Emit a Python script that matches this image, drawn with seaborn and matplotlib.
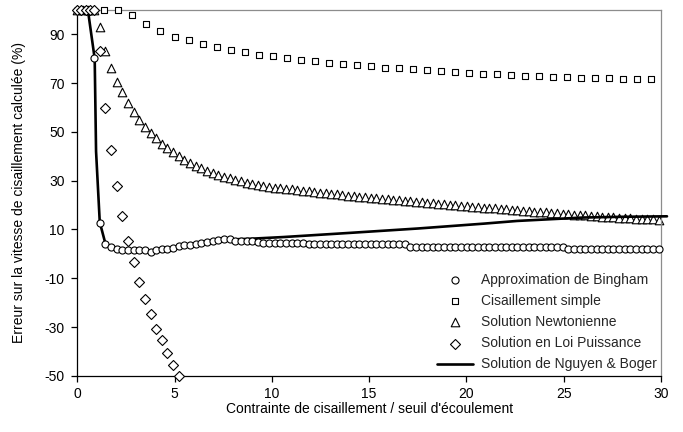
import matplotlib
matplotlib.use("Agg")
import matplotlib.pyplot as plt
import seaborn as sns

sns.set_theme(style="white")
plt.rcParams["font.family"] = ["Liberation Sans", "DejaVu Sans"]
plt.rcParams["axes.unicode_minus"] = False

# common abscissa for the Bingham and Newtonian series
grid_x = [
    0.00, 0.29, 0.58, 0.87, 1.16, 1.45, 1.74, 2.03, 2.32, 2.61,
    2.90, 3.19, 3.48, 3.77, 4.06, 4.35, 4.64, 4.93, 5.22, 5.51,
    5.80, 6.09, 6.38, 6.67, 6.96, 7.25, 7.54, 7.83, 8.12, 8.41,
    8.70, 8.99, 9.28, 9.57, 9.86, 10.15, 10.44, 10.73, 11.02, 11.31,
    11.60, 11.89, 12.18, 12.47, 12.76, 13.05, 13.34, 13.63, 13.92, 14.21,
    14.50, 14.79, 15.08, 15.37, 15.66, 15.95, 16.24, 16.53, 16.82, 17.11,
    17.40, 17.69, 17.98, 18.27, 18.56, 18.85, 19.14, 19.43, 19.72, 20.01,
    20.30, 20.59, 20.88, 21.17, 21.46, 21.75, 22.04, 22.33, 22.62, 22.91,
    23.20, 23.49, 23.78, 24.07, 24.36, 24.65, 24.94, 25.23, 25.52, 25.81,
    26.10, 26.39, 26.68, 26.97, 27.26, 27.55, 27.84, 28.13, 28.42, 28.71,
    29.00, 29.29, 29.58, 29.87,
]

bingham_err = [
    100, 100, 100, 80.5, 12.8, 4.2, 2.9, 2.2, 1.5, 1.5,
    1.5, 1.5, 1.5, 0.8, 1.5, 1.9, 2.2, 2.5, 3.3, 3.5,
    3.8, 4.2, 4.5, 4.9, 5.3, 5.6, 5.9, 6.0, 5.3, 5.3,
    5.3, 5.3, 4.9, 4.6, 4.5, 4.5, 4.4, 4.4, 4.3, 4.3,
    4.3, 4.2, 4.2, 4.2, 4.2, 4.1, 4.1, 4.1, 4.1, 4.0,
    4.0, 4.0, 4.0, 4.0, 4.0, 3.9, 3.9, 3.9, 3.9, 2.9,
    2.9, 2.9, 2.9, 2.9, 2.9, 2.9, 2.9, 2.9, 2.9, 2.9,
    2.9, 2.9, 2.9, 2.9, 2.9, 2.9, 2.9, 2.9, 2.9, 2.9,
    2.9, 2.9, 2.9, 2.9, 2.9, 2.9, 2.9, 2.2, 2.2, 2.2,
    2.2, 2.2, 2.2, 2.2, 2.2, 2.2, 2.2, 2.2, 2.2, 2.2,
    2.2, 2.2, 2.2, 2.2,
]

newton_err = [
    100, 100, 100, 100, 92.8, 83.2, 76.4, 70.3, 66.2, 61.7,
    58.3, 55.0, 52.2, 49.6, 47.4, 45.2, 43.3, 41.6, 40.0, 38.6,
    37.3, 36.1, 35.0, 34.0, 33.1, 32.3, 31.6, 30.9, 30.3, 29.7,
    29.1, 28.6, 28.1, 27.8, 27.5, 27.2, 26.9, 26.6, 26.4, 26.1,
    25.8, 25.6, 25.3, 25.1, 24.8, 24.6, 24.4, 24.1, 23.9, 23.7,
    23.4, 23.2, 23.0, 22.8, 22.5, 22.3, 22.1, 21.9, 21.7, 21.5,
    21.3, 21.1, 20.9, 20.7, 20.5, 20.3, 20.1, 19.9, 19.7, 19.5,
    19.3, 19.1, 18.9, 18.8, 18.6, 18.4, 18.2, 18.0, 17.9, 17.7,
    17.5, 17.3, 17.2, 17.0, 16.8, 16.6, 16.5, 16.3, 16.1, 16.0,
    15.8, 15.7, 15.5, 15.3, 15.2, 15.0, 14.9, 14.7, 14.6, 14.5,
    14.3, 14.2, 14.1, 14.0,
]

simple_x = [
    0.68, 1.40, 2.12, 2.84, 3.56, 4.28, 5.00, 5.72, 6.44, 7.16,
    7.88, 8.60, 9.32, 10.04, 10.76, 11.48, 12.20, 12.92, 13.64, 14.36,
    15.08, 15.80, 16.52, 17.24, 17.96, 18.68, 19.40, 20.12, 20.84, 21.56,
    22.28, 23.00, 23.72, 24.44, 25.16, 25.88, 26.60, 27.32, 28.04, 28.76,
    29.48,
]
simple_err = [
    100, 100, 100, 97.8, 94.2, 91.4, 89.1, 87.6, 86.0, 84.9,
    83.7, 82.6, 81.7, 81.0, 80.3, 79.6, 79.0, 78.4, 77.9, 77.4,
    76.9, 76.4, 76.0, 75.6, 75.2, 74.8, 74.5, 74.2, 73.9, 73.6,
    73.4, 73.1, 72.9, 72.7, 72.5, 72.3, 72.1, 72.0, 71.8, 71.7,
    71.6,
]

power_x = [
    0.00, 0.22, 0.44, 0.66, 0.88, 1.16, 1.45, 1.74, 2.03, 2.32,
    2.61, 2.90, 3.19, 3.48, 3.77, 4.06, 4.35, 4.64, 4.93, 5.22,
]
power_err = [
    100, 100, 100, 100, 100, 83.2, 59.8, 42.4, 27.7, 15.7,
    5.3, -3.4, -11.6, -18.7, -24.5, -30.7, -35.4, -40.5, -45.5, -50.0,
]

nb_x = [0.0, 0.55, 0.90, 0.97, 1.16, 1.45, 1.74, 2.32, 3.0, 3.77, 4.35, 5.22,
        6.09, 6.96, 7.83, 8.9, 10.6, 14.0, 17.5, 20.9, 22.6, 26.0, 28.0, 30.3]
nb_err = [100, 100, 80, 42, 13, 4.2, 2.8, 1.7, 1.5, 1.0, 1.8, 3.2,
          4.1, 5.2, 5.9, 6.2, 6.9, 8.6, 10.4, 12.4, 13.5, 14.9, 15.2, 15.4]

labels = [
    "Approximation de Bingham",
    "Cisaillement simple",
    "Solution Newtonienne",
    "Solution en Loi Puissance",
    "Solution de Nguyen & Boger",
]

fig, ax = plt.subplots(figsize=(6.83, 4.32), dpi=100)
fig.subplots_adjust(left=0.113, right=0.968, bottom=0.130, top=0.977)

mk = dict(color="white", edgecolor="black", linewidth=0.8, clip_on=False, ax=ax)
sns.scatterplot(x=grid_x, y=bingham_err, marker="o", s=26, label=labels[0], zorder=5, **mk)
sns.scatterplot(x=simple_x, y=simple_err, marker="s", s=22, label=labels[1], zorder=4, **mk)
sns.scatterplot(x=grid_x, y=newton_err, marker="^", s=38, label=labels[2], zorder=2, **mk)
sns.scatterplot(x=power_x, y=power_err, marker="D", s=26, label=labels[3], zorder=6, **mk)
sns.lineplot(x=nb_x, y=nb_err, color="black", linewidth=1.9, label=labels[4],
             estimator=None, sort=False, ax=ax, zorder=3, clip_on=False)

ax.set_xlim(0, 30)
ax.set_ylim(-50, 100)
ax.set_xticks([0, 5, 10, 15, 20, 25, 30])
ax.set_yticks([-50, -30, -10, 10, 30, 50, 70, 90])

for side in ["left", "bottom"]:
    ax.spines[side].set_color("black")
    ax.spines[side].set_linewidth(0.9)
for side in ["top", "right"]:
    ax.spines[side].set_color("#8c8c8c")
    ax.spines[side].set_linewidth(0.9)

ax.tick_params(axis="both", direction="out", length=4, width=0.9, color="black",
               labelsize=10, labelcolor="black", bottom=True, left=True)
ax.tick_params(axis="y", pad=5)
ax.tick_params(axis="x", pad=4)

ax.set_xlabel("Contrainte de cisaillement / seuil d'écoulement", fontsize=10, color="black")
ax.set_ylabel("Erreur sur la vitesse de cisaillement calculée (%)", fontsize=10, color="black")
ax.yaxis.set_label_coords(-0.088, 0.5)
ax.xaxis.set_label_coords(0.5, -0.072)

ax.legend(loc="lower right", bbox_to_anchor=(0.993, 0.012), frameon=False, fontsize=10,
          labelspacing=0.52, handlelength=2.6, handletextpad=0.6, borderpad=0,
          borderaxespad=0, scatterpoints=1)

fig.savefig("out.png", dpi=100)
